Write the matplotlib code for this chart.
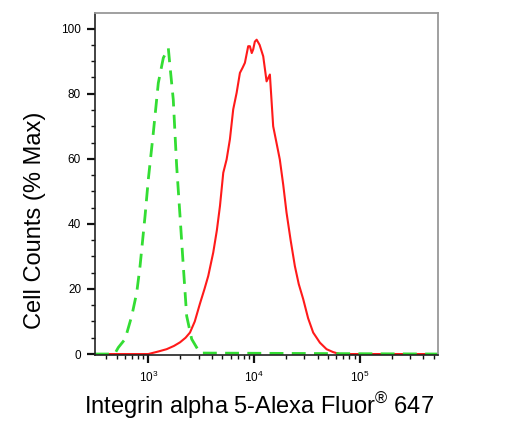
import numpy as np
import matplotlib
matplotlib.use('Agg')
import matplotlib.pyplot as plt
from matplotlib.ticker import LogLocator, MultipleLocator

plt.rcParams['font.family'] = ['Liberation Sans', 'DejaVu Sans']
plt.rcParams['mathtext.fontset'] = 'custom'
plt.rcParams['mathtext.rm'] = 'Liberation Sans'
plt.rcParams['mathtext.it'] = 'Liberation Sans:italic'

# isotype control (green dashed)
ctrl_x = [313, 480, 520, 603, 697, 777, 835, 931, 1000, 1115, 1243, 1386, 1546,
          1604, 1722, 1854, 1995, 2143, 2306, 2572, 3080, 550000]
ctrl_y = [0, 0, 2, 4.6, 11.7, 18.9, 27, 42.4, 53.7, 68, 83.3, 91, 94,
          88.4, 78.2, 57.8, 42.4, 27, 11.7, 4.6, 0.3, 0]

# stained sample (red)
stain_x = [313, 1000, 1250, 1493, 1750, 1995, 2250, 2478, 2750, 3080, 3400, 3690,
           4114, 4450, 4763, 5117, 5505, 5915, 6357, 6850, 7356, 7800, 8200, 8810,
           9140, 9520, 9820, 10180, 10590, 11300, 12220, 13150, 14130, 15180,
           16300, 17540, 18900, 20300, 22200, 24360, 26500, 29190, 32500, 36290,
           42000, 48530, 56000, 64700, 550000]
stain_y = [0, 0, 0.8, 1.5, 2.5, 3.6, 5, 6.6, 10, 15.5, 20, 24,
           31.2, 38, 45.5, 55.7, 59.8, 66, 75.2, 80.3, 86.4, 88, 89.5, 94.6,
           94.6, 92.5, 93.6, 96, 96.6, 95, 91.5, 83.8, 85.9, 70,
           65, 59.8, 52, 43.5, 35, 27, 21.5, 16.9, 11, 6.6,
           3.5, 1.5, 0.6, 0, 0]

fig = plt.figure(figsize=(5.24, 4.34), dpi=100)
ax = fig.add_axes([0.1813, 0.182, 0.6545, 0.788])

ax.plot(stain_x, stain_y, color='#ff1a1a', lw=1.5)
ax.plot(ctrl_x, ctrl_y, color='#33dd33', lw=2, dashes=(5, 3))

ax.set_xscale('log')
ax.set_xlim(313, 550000)
ax.set_ylim(-0.3, 104.8)

ax.xaxis.set_major_locator(LogLocator(base=10, numticks=10))
ax.xaxis.set_minor_locator(LogLocator(base=10, subs=np.arange(2, 10), numticks=20))
ax.yaxis.set_major_locator(MultipleLocator(20))
ax.yaxis.set_minor_locator(MultipleLocator(5))

ax.tick_params(axis='both', which='major', direction='out', length=6, width=1.6,
               labelsize=8.5, color='#111111', top=False, right=False)
ax.tick_params(axis='both', which='minor', direction='out', length=3, width=1,
               color='#111111', top=False, right=False)
ax.tick_params(axis='x', pad=5)
ax.tick_params(axis='y', pad=4)

for s in ['top', 'right']:
    ax.spines[s].set_color('#999999')
    ax.spines[s].set_linewidth(1.3)
for s in ['left', 'bottom']:
    ax.spines[s].set_color('#222222')
    ax.spines[s].set_linewidth(1.2)

ax.set_ylabel('Cell Counts (% Max)', fontsize=17)
ax.yaxis.set_label_coords(-0.143, 0.395)
ax.set_xlabel(r'Integrin alpha 5-Alexa Fluor$^{\circledR}$ 647', fontsize=17)
ax.xaxis.set_label_coords(0.477, -0.105)

fig.savefig('out.png', dpi=100)
